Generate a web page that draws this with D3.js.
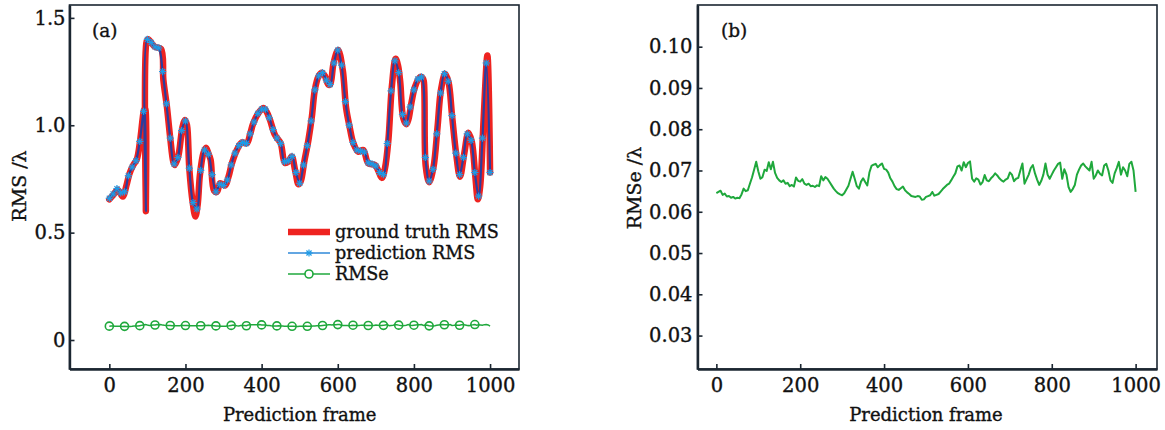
<!DOCTYPE html>
<html>
<head>
<meta charset="utf-8">
<script src="https://cdn.jsdelivr.net/npm/d3@7/dist/d3.min.js"></script>
<style>
  html, body { margin: 0; padding: 0; background: #fff; }
  svg { display: block; }
  text { font-family: "DejaVu Serif", "Liberation Serif", serif; fill: #111; stroke: #111; stroke-width: 0.35px; }
</style>
</head>
<body>
<svg id="chart" width="1165" height="430"></svg>
<script>
// Ground-truth RMS wavefront (in waves) at key frames
const gtFrames = [0, 10, 22, 35, 45, 53, 63, 72, 81, 91, 94, 96, 98, 102, 112, 120, 136, 142, 151, 160,
  168, 172, 181, 192, 199, 204, 210, 219, 226, 232, 238, 247, 254, 260, 266, 275, 283, 291, 304, 313,
  322, 335, 348, 361, 370, 378, 394, 405, 414, 422, 435, 450, 461, 470, 479, 488, 497, 503, 512, 523,
  532, 540, 550, 558, 566, 575, 580, 589, 601, 613, 622, 631, 641, 654, 667, 680, 698, 706, 716, 724,
  733, 742, 752, 758, 764, 772, 780, 786, 793, 803, 816, 823, 826, 831, 840, 851, 862, 871, 882, 891,
  900, 911, 921, 932, 943, 952, 961, 968, 974, 983, 993, 1000];
const gtValues = [0.655, 0.675, 0.700, 0.668, 0.720, 0.775, 0.815, 0.840, 0.930, 1.070, 1.080, 0.600, 1.390, 1.400, 1.380, 1.365, 1.355, 1.210, 1.090, 0.940,
  0.830, 0.815, 0.855, 0.990, 1.025, 1.000, 0.800, 0.640, 0.575, 0.630, 0.770, 0.870, 0.895, 0.870, 0.840, 0.695, 0.690, 0.730, 0.720, 0.760,
  0.823, 0.885, 0.920, 0.916, 0.960, 1.009, 1.063, 1.080, 1.060, 1.025, 0.955, 0.916, 0.825, 0.830, 0.855, 0.790, 0.725, 0.740, 0.830, 0.932,
  1.040, 1.167, 1.230, 1.245, 1.230, 1.190, 1.190, 1.290, 1.350, 1.258, 1.079, 0.994, 0.916, 0.877, 0.885, 0.823, 0.815, 0.790, 0.755, 0.800,
  0.932, 1.180, 1.310, 1.280, 1.203, 1.033, 1.005, 1.030, 1.100, 1.180, 1.225, 1.220, 1.205, 0.810, 0.735, 0.800, 0.990, 1.164, 1.240, 1.200,
  1.048, 0.866, 0.760, 0.866, 0.965, 0.924, 0.768, 0.655, 0.714, 1.025, 1.325, 0.780];

// Predicted RMS, every 10 frames plus the samples around the jump near frame 95
const predFrames = [0, 10, 20, 30, 40, 50, 60, 70, 80, 90, 93, 96, 100, 110, 120, 130, 140, 150, 160, 170,
  180, 190, 200, 210, 220, 230, 240, 250, 260, 270, 280, 290, 300, 310, 320, 330, 340, 350, 360, 370,
  380, 390, 400, 410, 420, 430, 440, 450, 460, 470, 480, 490, 500, 510, 520, 530, 540, 550, 560, 570,
  580, 590, 600, 610, 620, 630, 640, 650, 660, 670, 680, 690, 700, 710, 720, 730, 740, 750, 760, 770,
  780, 790, 800, 810, 820, 830, 840, 850, 860, 870, 880, 890, 900, 910, 920, 930, 940, 950, 960, 970,
  980, 990, 1000];
const predValues = [0.660, 0.680, 0.705, 0.685, 0.690, 0.765, 0.805, 0.835, 0.925, 1.065, 1.085, 0.600, 1.400, 1.385, 1.365, 1.360, 1.250, 1.100, 0.940, 0.820,
  0.850, 0.975, 1.020, 0.800, 0.640, 0.610, 0.790, 0.885, 0.865, 0.770, 0.690, 0.725, 0.720, 0.745, 0.815, 0.870, 0.905, 0.920, 0.915, 0.960,
  1.015, 1.055, 1.075, 1.075, 1.035, 0.980, 0.940, 0.915, 0.830, 0.835, 0.855, 0.780, 0.730, 0.815, 0.905, 1.020, 1.165, 1.230, 1.245, 1.210,
  1.190, 1.290, 1.350, 1.280, 1.110, 1.000, 0.920, 0.885, 0.880, 0.875, 0.825, 0.820, 0.810, 0.780, 0.770, 0.915, 1.160, 1.300, 1.245, 1.050,
  1.010, 1.085, 1.165, 1.215, 1.225, 0.850, 0.740, 0.795, 0.960, 1.150, 1.240, 1.205, 1.045, 0.870, 0.770, 0.850, 0.960, 0.930, 0.780, 0.670,
  0.940, 1.290, 0.780];

// RMS error between prediction and ground truth, sampled every 5 frames (0..1000)
const rmseValues = [
  0.0645, 0.0648, 0.0651, 0.0641, 0.0644, 0.0637, 0.0638, 0.0634, 0.0636, 0.0632,
  0.0634, 0.0633, 0.0642, 0.0656, 0.0650, 0.0652, 0.0668, 0.0683, 0.0702, 0.0721,
  0.0698, 0.0680, 0.0684, 0.0702, 0.0699, 0.0720, 0.0703, 0.0721, 0.0694, 0.0682,
  0.0676, 0.0672, 0.0676, 0.0668, 0.0670, 0.0662, 0.0665, 0.0661, 0.0683, 0.0675,
  0.0673, 0.0679, 0.0668, 0.0665, 0.0668, 0.0662, 0.0663, 0.0660, 0.0664, 0.0662,
  0.0686, 0.0676, 0.0684, 0.0680, 0.0672, 0.0664, 0.0656, 0.0650, 0.0645, 0.0642,
  0.0640, 0.0645, 0.0654, 0.0663, 0.0680, 0.0697, 0.0680, 0.0662, 0.0656, 0.0673,
  0.0681, 0.0672, 0.0664, 0.0695, 0.0711, 0.0714, 0.0716, 0.0708, 0.0713, 0.0717,
  0.0704, 0.0702, 0.0695, 0.0681, 0.0673, 0.0662, 0.0655, 0.0653, 0.0657, 0.0661,
  0.0652, 0.0647, 0.0643, 0.0638, 0.0637, 0.0636, 0.0638, 0.0637, 0.0629, 0.0630,
  0.0636, 0.0638, 0.0640, 0.0648, 0.0639, 0.0641, 0.0643, 0.0649, 0.0655, 0.0660,
  0.0665, 0.0668, 0.0676, 0.0685, 0.0693, 0.0710, 0.0712, 0.0700, 0.0720, 0.0708,
  0.0718, 0.0722, 0.0680, 0.0673, 0.0681, 0.0678, 0.0666, 0.0672, 0.0689, 0.0676,
  0.0674, 0.0681, 0.0686, 0.0693, 0.0688, 0.0681, 0.0676, 0.0673, 0.0678, 0.0681,
  0.0695, 0.0690, 0.0674, 0.0680, 0.0682, 0.0700, 0.0717, 0.0668, 0.0679, 0.0690,
  0.0706, 0.0713, 0.0693, 0.0678, 0.0665, 0.0675, 0.0690, 0.0717, 0.0690, 0.0680,
  0.0690, 0.0700, 0.0708, 0.0716, 0.0719, 0.0680, 0.0703, 0.0690, 0.0660, 0.0648,
  0.0655, 0.0665, 0.0690, 0.0702, 0.0712, 0.0717, 0.0710, 0.0705, 0.0700, 0.0721,
  0.0680, 0.0688, 0.0700, 0.0692, 0.0688, 0.0712, 0.0716, 0.0700, 0.0676, 0.0670,
  0.0693, 0.0706, 0.0721, 0.0690, 0.0708, 0.0700, 0.0686, 0.0716, 0.0721, 0.0700,
  0.0648];
const rmseStep = 5;

// Tick labels
const xTicks = [0, 200, 400, 600, 800, 1000];
const xTickLabels = ["0", "200", "400", "600", "800", "1000"];
const yTicksA = [0, 0.5, 1.0, 1.5];
const yTickLabelsA = ["0", "0.5", "1.0", "1.5"];
const yTicksB = [0.03, 0.04, 0.05, 0.06, 0.07, 0.08, 0.09, 0.10];
const yTickLabelsB = ["0.03", "0.04", "0.05", "0.06", "0.07", "0.08", "0.09", "0.10"];
const legendLabels = ["ground truth RMS", "prediction RMS", "RMSe"];

// ---- styling ----
const AXIS = "#1b2631";
const RED = "#ee2320";
const BLUE_LINE = "#2b3d9e";
const BLUE_MARK = "#1f9be6";
const BLUE_LEG = "#2f88d8";
const GREEN = "#1fa83c";
const TICK_FONT = 19.5;
const TITLE_FONT = 18;
const LEGEND_FONT = 17.6;

const svg = d3.select("#chart");

const gt = gtFrames.map((f, i) => ({ f, v: gtValues[i] }));
const pred = predFrames.map((f, i) => ({ f, v: predValues[i] }));
const rmse = rmseValues.map((v, i) => ({ f: i * rmseStep, v }));

function frame(g, x, y, opts) {
  const [x0, x1] = x.range();
  const [y0, y1] = y.range();
  // outer box
  g.append("rect")
    .attr("x", x0).attr("y", y1)
    .attr("width", x1 - x0).attr("height", y0 - y1)
    .attr("fill", "none").attr("stroke", AXIS).attr("stroke-width", 1.6);

  const ax = g.append("g").attr("transform", `translate(0,${y0})`)
    .call(d3.axisBottom(x).tickValues(xTicks).tickFormat((d, i) => xTickLabels[i])
      .tickSize(-5).tickSizeOuter(0).tickPadding(opts.xPad));
  const ay = g.append("g").attr("transform", `translate(${x0},0)`)
    .call(d3.axisLeft(y).tickValues(opts.yTicks).tickFormat((d, i) => opts.yLabels[i])
      .tickSize(-5).tickSizeOuter(0).tickPadding(opts.yPad));

  [ax, ay].forEach(a => {
    a.select(".domain").attr("stroke", AXIS).attr("stroke-width", 2.4);
    a.selectAll(".tick line").attr("stroke", AXIS).attr("stroke-width", 1.6);
    a.selectAll(".tick text")
      .style("font-family", '"DejaVu Serif", serif')
      .style("font-size", TICK_FONT + "px")
      .attr("fill", "#111");
  });

  // x title centred on the 0..1000 frame range
  g.append("text")
    .attr("x", (x(0) + x(1000)) / 2).attr("y", 421)
    .attr("text-anchor", "middle")
    .style("font-size", TITLE_FONT + "px")
    .text("Prediction frame");

  g.append("text")
    .attr("transform", `translate(${opts.yTitleX},${opts.yTitleY}) rotate(-90)`)
    .attr("text-anchor", "middle")
    .attr("dy", "0.35em")
    .style("font-size", (TITLE_FONT + 1) + "px")
    .text(opts.yTitle);

  g.append("text")
    .attr("x", opts.tagX).attr("y", 37)
    .style("font-size", (TITLE_FONT + 0.5) + "px")
    .text(opts.tag);
}

function star(sel, cx, cy, r, color) {
  const arms = [0, 45, 90, 135];
  arms.forEach(a => {
    const t = a * Math.PI / 180;
    sel.append("line")
      .attr("x1", cx - r * Math.cos(t)).attr("y1", cy - r * Math.sin(t))
      .attr("x2", cx + r * Math.cos(t)).attr("y2", cy + r * Math.sin(t))
      .attr("stroke", color).attr("stroke-width", 1.2);
  });
}

// ================= Panel (a) =================
const xA = d3.scaleLinear().domain([-104.6, 1076]).range([69.5, 519]);
const yA = d3.scaleLinear().domain([-0.135, 1.56]).range([369, 5]);
const gA = svg.append("g");

const lineA = d3.line().x(d => xA(d.f)).y(d => yA(d.v));

gA.append("path").datum(gt)
  .attr("d", lineA.curve(d3.curveCatmullRom.alpha(0.5)))
  .attr("fill", "none").attr("stroke", RED).attr("stroke-width", 6.5)
  .attr("stroke-linejoin", "round").attr("stroke-linecap", "round");

gA.append("path").datum(rmse)
  .attr("d", d3.line().x(d => xA(d.f)).y(d => yA(d.v)))
  .attr("fill", "none").attr("stroke", GREEN).attr("stroke-width", 1.5);

gA.append("g").selectAll("circle")
  .data(rmse.filter(d => d.f % 40 === 0 && d.f <= 960))
  .join("circle")
  .attr("cx", d => xA(d.f)).attr("cy", d => yA(d.v)).attr("r", 4)
  .attr("fill", "none").attr("stroke", GREEN).attr("stroke-width", 1.6);

gA.append("path").datum(pred)
  .attr("d", d3.line().x(d => xA(d.f)).y(d => yA(d.v)).curve(d3.curveCatmullRom.alpha(0.5)))
  .attr("fill", "none").attr("stroke", BLUE_LINE).attr("stroke-width", 2.2)
  .attr("stroke-linejoin", "round");

const marks = gA.append("g");
pred.filter(d => d.f % 10 === 0).forEach(d => star(marks, xA(d.f), yA(d.v), 3.6, BLUE_MARK));

frame(gA, xA, yA, {
  yTicks: yTicksA, yLabels: yTickLabelsA, xPad: 9, yPad: 4,
  yTitle: "RMS /\u03bb", yTitleX: 19, yTitleY: 186,
  tag: "(a)", tagX: 92
});

// legend
const leg = gA.append("g");
const legY = [232, 253, 274];
const lx0 = 288, lx1 = 330, lmid = (lx0 + lx1) / 2;
leg.append("line").attr("x1", lx0).attr("x2", lx1).attr("y1", legY[0]).attr("y2", legY[0])
  .attr("stroke", RED).attr("stroke-width", 6.5);
leg.append("line").attr("x1", lx0).attr("x2", lx1).attr("y1", legY[1]).attr("y2", legY[1])
  .attr("stroke", BLUE_LEG).attr("stroke-width", 1.3);
star(leg, lmid, legY[1], 3.6, BLUE_MARK);
leg.append("line").attr("x1", lx0).attr("x2", lx1).attr("y1", legY[2]).attr("y2", legY[2])
  .attr("stroke", GREEN).attr("stroke-width", 1.6);
leg.append("circle").attr("cx", lmid).attr("cy", legY[2]).attr("r", 4)
  .attr("fill", "#fff").attr("stroke", GREEN).attr("stroke-width", 1.6);
legendLabels.forEach((t, i) => {
  leg.append("text").attr("x", 335).attr("y", legY[i] + 6)
    .style("font-size", LEGEND_FONT + "px").text(t);
});

// ================= Panel (b) =================
const xB = d3.scaleLinear().domain([-45, 1051]).range([697.5, 1157]);
const yB = d3.scaleLinear().domain([0.0219, 0.1101]).range([369, 5]);
const gB = svg.append("g");

gB.append("path").datum(rmse)
  .attr("d", d3.line().x(d => xB(d.f)).y(d => yB(d.v)))
  .attr("fill", "none").attr("stroke", GREEN).attr("stroke-width", 2)
  .attr("stroke-linejoin", "round");

frame(gB, xB, yB, {
  yTicks: yTicksB, yLabels: yTickLabelsB, xPad: 9, yPad: 5,
  yTitle: "RMSe /\u03bb", yTitleX: 634, yTitleY: 188,
  tag: "(b)", tagX: 721
});
</script>
</body>
</html>
